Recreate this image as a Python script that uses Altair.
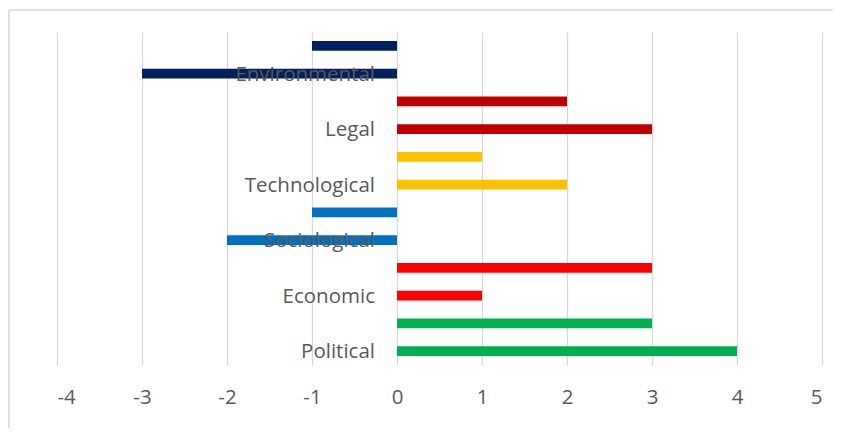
import altair as alt
import pandas as pd

categories = ["Political", "Economic", "Sociological", "Technological", "Legal", "Environmental"]
values_lower = [4, 1, -2, 2, 3, -3]   # labelled bar of each pair
values_upper = [3, 3, -1, 1, 2, -1]   # bar above it
colors = ["#00B050", "#FF0000", "#0070C0", "#FFC000", "#C00000", "#002060"]
x_ticks = [-4, -3, -2, -1, 0, 1, 2, 3, 4, 5]

rows = []
for cat, lo, up, col in zip(categories, values_lower, values_upper, colors):
    rows.append({"row": cat + "|a", "cat": cat, "value": lo, "color": col, "label": cat})
    rows.append({"row": cat + "|b", "cat": cat, "value": up, "color": col, "label": ""})
df = pd.DataFrame(rows)
order = list(reversed(df["row"].tolist()))

FONT = "Open Sans"
GRAY = "#595959"
FS = 20.5

x = alt.X("value:Q", scale=alt.Scale(domain=[-4, 5], nice=False, zero=False),
          axis=alt.Axis(values=x_ticks, grid=True, gridColor="#d9d9d9", gridWidth=1.3,
                        domain=False, ticks=False, labelPadding=22, labelFontSize=FS,
                        labelColor=GRAY, labelFont=FONT, title=None,
                        labelExpr="'' + datum.value"))
y = alt.Y("row:N", sort=order,
          scale=alt.Scale(paddingInner=0.64, paddingOuter=0.32),
          axis=None)

bars = alt.Chart(df).mark_bar().encode(
    x=x, x2=alt.datum(0), y=y,
    color=alt.Color("color:N", scale=None),
)

labels = alt.Chart(df[df["label"] != ""]).mark_text(
    align="right", baseline="middle", dx=-22, dy=1, fontSize=FS, font=FONT, color=GRAY
).encode(x=alt.datum(0), y=y, text="label:N")

border_df = pd.DataFrame({"k": [0]})
left_border = alt.Chart(border_df).mark_rule(color="#d9d9d9", strokeWidth=1.5).encode(
    x=alt.value(-48), y=alt.value(-22), y2=alt.value(420))
top_border = alt.Chart(border_df).mark_rule(color="#d9d9d9", strokeWidth=1.5).encode(
    x=alt.value(-48), x2=alt.value(800), y=alt.value(-22))

chart = alt.layer(bars, labels, left_border, top_border).properties(
    width=765, height=333,
    background="white",
    autosize=alt.AutoSizeParams(type="none"),
    padding={"left": 49, "top": 24, "right": 11, "bottom": 63},
).configure_view(strokeWidth=0, stroke="transparent")

chart.save("out.html", embed_options={"renderer": "svg", "actions": False})
